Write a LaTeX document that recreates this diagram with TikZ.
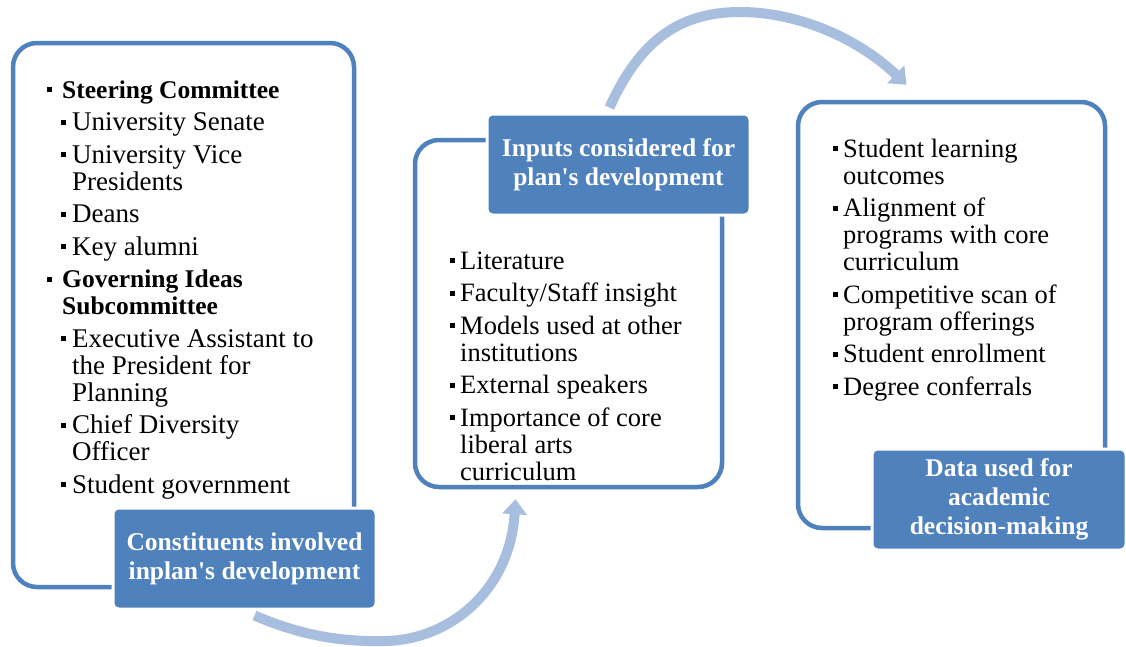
\documentclass[tikz,border=0pt]{standalone}
\usepackage{fontspec}
\setmainfont{Liberation Serif}
\usetikzlibrary{arrows.meta,positioning}
\definecolor{frameblue}{RGB}{79,129,189}
\definecolor{arcblue}{RGB}{167,190,222}
\newcommand\sqb[1][10pt]{\makebox[#1][l]{\rule[6pt]{5pt}{5pt}}}
\newcommand\hd[1]{{\bfseries\fontsize{25.5}{27}\selectfont #1}}

\tikzset{
  panel/.style={draw=frameblue,line width=4.5pt,fill=white,rounded corners=24pt},
  tag/.style={fill=frameblue,draw=white,line width=3pt,rounded corners=6pt,text=white,
    font=\bfseries\fontsize{25.5}{29}\selectfont,align=center,inner sep=0pt},
  items/.style={anchor=base west,align=left,inner sep=0pt,font=\fontsize{26.5}{27}\selectfont},
  loop arrow/.style={arcblue,line width=10pt,-{Triangle[width=24pt,length=15pt]}}
}

\begin{document}
\begin{tikzpicture}[x=1pt,y=-1pt]
\useasboundingbox[fill=white] (0,0) rectangle (1126,646);

\node[panel,minimum width=341pt,minimum height=544pt] (constBox) at (183.5,315) {};
\node[panel,minimum width=307pt,minimum height=347pt] (inputBox) at (568.5,313.5) {};
\node[panel,minimum width=307pt,minimum height=426pt] (dataBox) at (951.5,315) {};

\node[items,font=\fontsize{27}{27}\selectfont] (constList) at (47,493) {%
  \sqb[15pt]\hd{Steering Committee}\\[5.5pt]
  \hspace*{14pt}\sqb[11pt]University Senate\\[5.5pt]
  \hspace*{14pt}\sqb[11pt]University Vice\\
  \hspace*{25pt}Presidents\\[5.5pt]
  \hspace*{14pt}\sqb[11pt]Deans\\[5.5pt]
  \hspace*{14pt}\sqb[11pt]Key alumni\\[5.5pt]
  \sqb[15pt]\hd{Governing Ideas}\\
  \hspace*{15pt}\hd{Subcommittee}\\[5.5pt]
  \hspace*{14pt}\sqb[11pt]Executive Assistant to\\
  \hspace*{25pt}the President for\\
  \hspace*{25pt}Planning\\[5.5pt]
  \hspace*{14pt}\sqb[11pt]Chief Diversity\\
  \hspace*{25pt}Officer\\[5.5pt]
  \hspace*{14pt}\sqb[11pt]Student government};

\node[items] (inputList) at (450,480) {%
  \sqb Literature\\[5.5pt]
  \sqb Faculty/Staff insight\\[5.5pt]
  \sqb Models used at other\\
  \hspace*{10pt}institutions\\[5.5pt]
  \sqb External speakers\\[5.5pt]
  \sqb Importance of core\\
  \hspace*{10pt}liberal arts\\
  \hspace*{10pt}curriculum};

\node[items] (dataList) at (833,395) {%
  \sqb Student learning\\
  \hspace*{10pt}outcomes\\[5.5pt]
  \sqb Alignment of\\
  \hspace*{10pt}programs with core\\
  \hspace*{10pt}curriculum\\[5.5pt]
  \sqb Competitive scan of\\
  \hspace*{10pt}program offerings\\[5.5pt]
  \sqb Student enrollment\\[5.5pt]
  \sqb Degree conferrals};

\node[tag,minimum width=263pt,minimum height=101pt] (lblConst) at (244.5,558.5) {Constituents involved\\inplan\textquotesingle s development};
\node[tag,minimum width=263pt,minimum height=101pt] (lblInputs) at (618.5,164.5) {Inputs considered for\\plan\textquotesingle s development};
\node[tag,minimum width=254pt,minimum height=101pt] (lblData) at (999,499.5) {Data used for\\academic\\decision-making};

\draw[loop arrow] ([xshift=10pt,yshift=-5pt]lblConst.south) .. controls (300,635) and (340,642) .. (385,641)
  .. controls (450,640) and (510,590) .. ([xshift=-53pt,yshift=-10pt]inputBox.south);
\draw[loop arrow] ([xshift=-9pt,yshift=5pt]lblInputs.north) .. controls (640,40) and (680,12) .. (740,12)
  .. controls (800,12) and (860,40) .. ([xshift=-45pt,yshift=15pt]dataBox.north);
\end{tikzpicture}
\end{document}
